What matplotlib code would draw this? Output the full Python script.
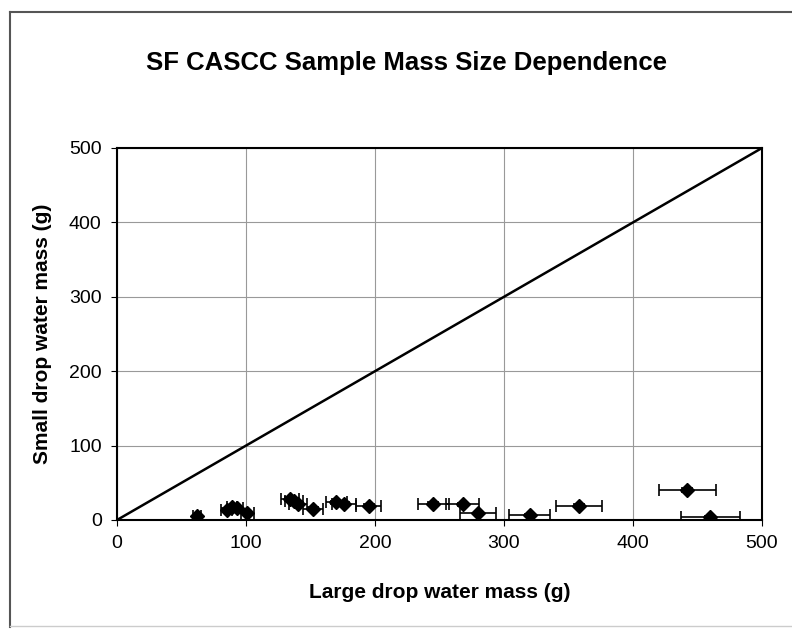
import matplotlib
matplotlib.use("Agg")
import matplotlib.pyplot as plt
from matplotlib.lines import Line2D

large_mass = [62, 85, 89, 93, 101, 134, 137, 140, 152, 170, 176, 195, 245, 268, 280, 320, 358, 442, 460]
small_mass = [5, 14, 18, 16, 10, 28, 25, 22, 15, 24, 22, 19, 22, 21, 9, 7, 19, 40, 4]
large_err = [3, 4, 4, 5, 5, 7, 7, 7, 8, 8, 9, 10, 12, 13, 14, 16, 18, 22, 23]
small_err = [1, 2, 2, 2, 1, 3, 3, 2, 2, 2, 2, 2, 2, 2, 1, 1, 2, 3, 1]
ticks = [0, 100, 200, 300, 400, 500]

plt.rcParams['font.family'] = ['Liberation Sans', 'DejaVu Sans']
fig = plt.figure(figsize=(7.92, 6.3), dpi=100)
W, H = 792, 630
fig.lines.append(Line2D([10/W, 10/W], [1-12/H, 1-627/H], transform=fig.transFigure, color='#555555', lw=1.5))
fig.lines.append(Line2D([10/W, 1.0], [1-12/H, 1-12/H], transform=fig.transFigure, color='#555555', lw=1.5))
fig.lines.append(Line2D([10/W, 1.0], [1-626/H, 1-626/H], transform=fig.transFigure, color='#cccccc', lw=1.0))

ax = fig.add_axes([117/W, 1-520/H, 645/W, 372/H])
ax.set_xlim(0, 500)
ax.set_ylim(0, 500)
ax.set_xticks(ticks)
ax.set_yticks(ticks)
ax.grid(True, color='#999999', lw=0.8)
ax.set_axisbelow(True)
ax.plot([0, 500], [0, 500], color='black', lw=1.8)
ax.errorbar(large_mass, small_mass, xerr=large_err, yerr=small_err, fmt='D', color='black',
            ms=7, ecolor='black', elinewidth=1.2, capsize=4, capthick=1.2)
for s in ax.spines.values():
    s.set_color('black')
    s.set_linewidth(1.5)
ax.tick_params(labelsize=14, length=4, direction='out', pad=7)
ax.set_xlabel('Large drop water mass (g)', fontsize=15, fontweight='bold', labelpad=22)
ax.set_ylabel('Small drop water mass (g)', fontsize=15, fontweight='bold', labelpad=12)
fig.text(406/W, 1-63/H, 'SF CASCC Sample Mass Size Dependence', fontsize=18.5,
         fontweight='bold', ha='center', va='center')
fig.savefig('out.png', dpi=100)
